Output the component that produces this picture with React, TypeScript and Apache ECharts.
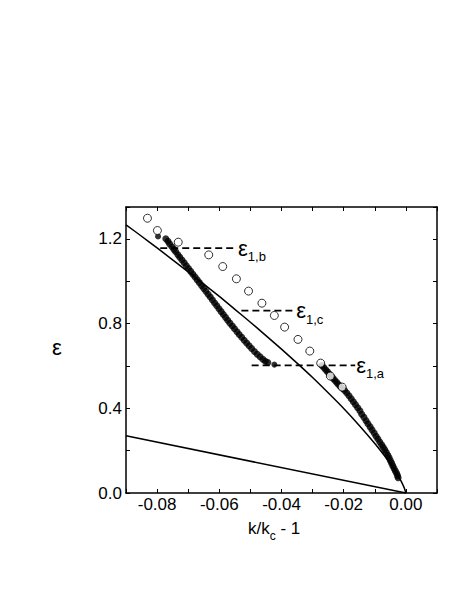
import React, { useEffect, useRef } from "react";
import * as echarts from "echarts";

// Upper theoretical curve
const upperCurveX = [-0.09, -0.085, -0.08, -0.075, -0.07, -0.065, -0.06, -0.055, -0.05, -0.045, -0.04, -0.035, -0.03, -0.025, -0.02, -0.015, -0.01, -0.007, -0.005, -0.003, -0.0015, -0.0005, 0];
const upperCurveY = [1.266, 1.212, 1.157, 1.1, 1.044, 0.986, 0.928, 0.867, 0.806, 0.743, 0.679, 0.613, 0.545, 0.473, 0.399, 0.319, 0.234, 0.178, 0.138, 0.093, 0.055, 0.023, 0];

// Lower straight line
const lowerLineX = [-0.09, 0];
const lowerLineY = [0.27, 0];

// Open circles
const openX = [-0.0831, -0.0799, -0.0732, -0.0634, -0.0589, -0.0545, -0.0506, -0.0463, -0.0423, -0.039, -0.0347, -0.0309, -0.0274, -0.0243, -0.0205];
const openY = [1.297, 1.239, 1.184, 1.124, 1.069, 1.011, 0.953, 0.896, 0.838, 0.783, 0.725, 0.67, 0.613, 0.552, 0.5];

// Filled circles, left branch
const filledAX = [-0.0772, -0.0765, -0.076, -0.0752, -0.0746, -0.074, -0.0733, -0.0727, -0.072, -0.0713, -0.0706, -0.0699, -0.0692, -0.0685, -0.0678, -0.0671, -0.0664, -0.0657, -0.065, -0.0643, -0.0636, -0.0629, -0.0622, -0.0615, -0.0608, -0.0601, -0.0594, -0.0587, -0.058, -0.0573, -0.0566, -0.0558, -0.0551, -0.0543, -0.0536, -0.0528, -0.052, -0.0512, -0.0504, -0.0496, -0.0487, -0.0478, -0.0469, -0.046, -0.0452, -0.0444];
const filledAY = [1.2, 1.188, 1.176, 1.162, 1.15, 1.139, 1.125, 1.113, 1.1, 1.087, 1.073, 1.06, 1.046, 1.033, 1.02, 1.006, 0.993, 0.979, 0.966, 0.952, 0.938, 0.925, 0.911, 0.897, 0.884, 0.87, 0.856, 0.843, 0.829, 0.815, 0.802, 0.788, 0.775, 0.761, 0.748, 0.735, 0.721, 0.708, 0.695, 0.682, 0.668, 0.655, 0.643, 0.631, 0.622, 0.616];

// Isolated filled circles
const isolatedX = [-0.0797, -0.0423];
const isolatedY = [1.211, 0.606];

// Filled circles, right branch
const filledBX = [-0.027, -0.0264, -0.0258, -0.0252, -0.0246, -0.024, -0.0234, -0.0228, -0.0222, -0.0216, -0.021, -0.0203, -0.0197, -0.019, -0.0183, -0.0176, -0.0169, -0.0162, -0.0155, -0.0148, -0.0142, -0.0135, -0.0128, -0.0122, -0.0115, -0.0109, -0.0102, -0.0096, -0.009, -0.0084, -0.0078, -0.0073, -0.0068, -0.0063, -0.0058, -0.0054, -0.005, -0.0046, -0.0042, -0.0038, -0.0034, -0.003, -0.0027, -0.0025];
const filledBY = [0.602, 0.592, 0.582, 0.572, 0.561, 0.551, 0.541, 0.531, 0.521, 0.511, 0.502, 0.493, 0.484, 0.472, 0.459, 0.445, 0.431, 0.417, 0.402, 0.388, 0.372, 0.357, 0.341, 0.327, 0.312, 0.298, 0.283, 0.268, 0.255, 0.241, 0.228, 0.216, 0.204, 0.191, 0.178, 0.166, 0.153, 0.141, 0.128, 0.116, 0.104, 0.093, 0.082, 0.072];

// Dashed threshold lines
const dashB = { x: [-0.079, -0.0543], y: 1.156, sub: "1,b" };
const dashC = { x: [-0.0529, -0.0356], y: 0.861, sub: "1,c" };
const dashA = { x: [-0.0496, -0.0163], y: 0.602, sub: "1,a" };

const xTickLabels = ["-0.08", "-0.06", "-0.04", "-0.02", "0.00"];
const yTickLabels = ["0.0", "0.4", "0.8", "1.2"];

const FONT = "Liberation Sans, Arial, Helvetica, sans-serif";

const zip = (xs: number[], ys: number[]) => xs.map((x, i) => [x, ys[i]]);

export default function App() {
  const ref = useRef<HTMLDivElement>(null);
  useEffect(() => {
    if (!ref.current) return;
    const chart = echarts.init(ref.current, undefined, { renderer: "svg" });

    const xFmt = (v: number) => {
      const s = (Math.round(v * 100) / 100).toFixed(2).replace("-0.00", "0.00");
      return xTickLabels.includes(s) ? s : "";
    };
    const yFmt = (v: number) => {
      const s = (Math.round(v * 100) / 100).toFixed(1);
      return Math.abs(v - parseFloat(s)) < 1e-6 && yTickLabels.includes(s) ? s : "";
    };

    const baseX = {
      type: "value" as const,
      min: -0.09,
      max: 0.01,
      interval: 0.01,
      splitLine: { show: false },
      axisLine: { show: true, onZero: false, lineStyle: { color: "#000", width: 1.5 } },
      axisTick: { show: true, inside: true, length: 4, lineStyle: { color: "#000", width: 1 } },
    };
    const baseY = {
      type: "value" as const,
      min: 0,
      max: 1.35,
      interval: 0.2,
      splitLine: { show: false },
      axisLine: { show: true, onZero: false, lineStyle: { color: "#000", width: 1.5 } },
      axisTick: { show: true, inside: true, length: 4, lineStyle: { color: "#000", width: 1 } },
    };

    const rich = {
      e: { fontSize: 22, fontFamily: FONT, color: "#000", lineHeight: 22 },
      s: { fontSize: 13, fontFamily: FONT, color: "#000", lineHeight: 30, verticalAlign: "bottom" as const },
    };

    const dashSeries = (d: { x: number[]; y: number; sub: string }) => ({
      type: "line",
      data: d.x.map((x) => [x, d.y]),
      showSymbol: false,
      symbol: "none",
      lineStyle: { color: "#000", width: 1.8, type: [7, 4] },
      endLabel: {
        show: true,
        formatter: `{e|ε}{s|${d.sub}}`,
        distance: 1,
        rich,
      },
      z: 3,
    });

    chart.setOption({
      animation: false,
      grid: { left: 126, right: 26, top: 207, bottom: 106, show: false },
      xAxis: [
        {
          ...baseX,
          position: "bottom",
          axisLabel: { show: true, formatter: xFmt, color: "#000", fontSize: 17, fontFamily: FONT, margin: 3 },
        },
        { ...baseX, position: "top", axisLabel: { show: false } },
      ],
      yAxis: [
        {
          ...baseY,
          position: "left",
          axisLabel: { show: true, formatter: yFmt, color: "#000", fontSize: 17, fontFamily: FONT, margin: 4 },
        },
        { ...baseY, position: "right", axisLabel: { show: false } },
      ],
      graphic: [
        {
          type: "text",
          left: 52,
          top: 336,
          style: { text: "ε", font: `22px ${FONT}`, fill: "#000" },
        },
        {
          type: "text",
          left: 248,
          top: 520,
          style: {
            text: "k/k{c|c} - 1",
            font: `17px ${FONT}`,
            fill: "#000",
            rich: {
              c: { fontSize: 12, fontFamily: FONT, fill: "#000", lineHeight: 26, verticalAlign: "bottom" },
            },
          },
        },
      ],
      series: [
        {
          type: "line",
          data: zip(lowerLineX, lowerLineY),
          showSymbol: false,
          symbol: "none",
          lineStyle: { color: "#000", width: 1.5 },
          z: 2,
        },
        {
          type: "line",
          data: zip(upperCurveX, upperCurveY),
          showSymbol: false,
          symbol: "none",
          smooth: 0.2,
          lineStyle: { color: "#000", width: 1.5 },
          z: 2,
        },
        dashSeries(dashB),
        dashSeries(dashC),
        dashSeries(dashA),
        {
          type: "scatter",
          data: zip(filledAX, filledAY),
          symbol: "circle",
          symbolSize: 7,
          itemStyle: { color: "#000" },
          z: 4,
        },
        {
          type: "scatter",
          data: zip(filledBX, filledBY),
          symbol: "circle",
          symbolSize: 7,
          itemStyle: { color: "#000" },
          z: 4,
        },
        {
          type: "scatter",
          data: zip(isolatedX, isolatedY),
          symbol: "circle",
          symbolSize: 6,
          itemStyle: { color: "#000" },
          z: 4,
        },
        {
          type: "scatter",
          data: zip(openX, openY),
          symbol: "circle",
          symbolSize: 8,
          itemStyle: { color: "#fff", borderColor: "#000", borderWidth: 1 },
          z: 5,
        },
      ],
    });
    return () => chart.dispose();
  }, []);
  return (
    <div
      ref={ref}
      style={{ position: "fixed", left: 0, top: 0, width: 463, height: 599, background: "#fff" }}
    />
  );
}
